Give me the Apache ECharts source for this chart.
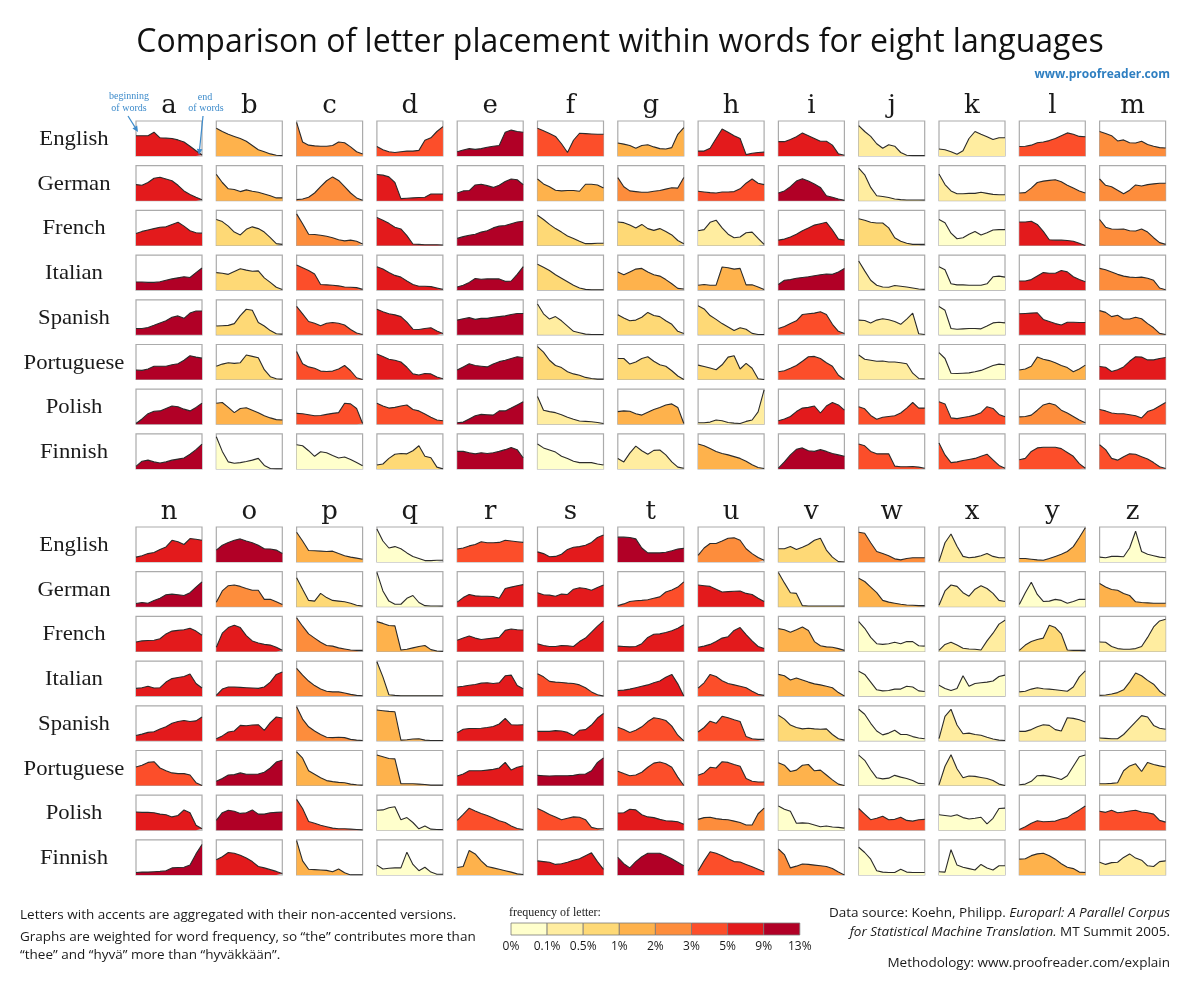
<!DOCTYPE html>
<html><head><meta charset="utf-8">
<script src="https://cdn.jsdelivr.net/npm/echarts@6/dist/echarts.min.js"></script>
<style>html,body{margin:0;padding:0;background:#fff}#chart{width:1200px;height:986px}</style>
</head><body><div id="chart"></div>
<script>
const letters = ['a','b','c','d','e','f','g','h','i','j','k','l','m','n','o','p','q','r','s','t','u','v','w','x','y','z'];
const languages = ['English','German','French','Italian','Spanish','Portuguese','Polish','Finnish'];
const colorBreaks = [0, 0.1, 0.5, 1, 2, 3, 5, 9, 13];
const legendTicks = ['0%','0.1%','0.5%','1%','2%','3%','5%','9%','13%'];
const palette = ['#ffffcc','#ffeda0','#fed976','#feb24c','#fd8d3c','#fc4e2a','#e31a1c','#b10026'];

// letter frequency (%) per language, a..z
const freqEnglish    = [8.1,1.5,2.8,4.2,12.4,3.1,1.9,6.1,6.9,0.15,0.45,4.0,2.4,6.7,9.2,1.8,0.08,4.5,6.3,9.1,2.7,0.9,2.4,0.2,1.9,0.07];
const freqGerman     = [6.5,1.9,2.7,5.1,12.0,1.7,2.9,4.6,9.1,0.3,0.45,2.9,2.5,9.8,2.6,0.8,0.02,7.0,6.4,4.9,5.2,0.8,1.6,0.12,0.09,1.1];
const freqFrench     = [7.6,0.9,2.9,5.1,12.9,0.95,0.9,0.4,6.8,0.6,0.02,5.5,2.6,6.9,5.3,2.8,1.2,6.5,7.8,6.9,5.9,1.4,0.03,0.4,0.6,0.15];
const freqItalian    = [10.5,0.9,4.4,5.0,11.6,0.95,1.7,1.3,10.2,0.15,0.03,6.3,2.7,6.8,8.5,2.9,0.6,6.3,4.9,6.8,3.2,1.8,0.05,0.04,0.12,0.8];
const freqSpanish    = [11.5,0.9,4.4,5.6,12.8,0.45,0.9,0.7,4.9,0.4,0.03,5.8,2.6,6.7,8.4,2.6,1.1,6.6,7.4,4.6,4.1,0.9,0.04,0.2,0.45,0.3];
const freqPortuguese = [12.2,0.9,4.3,5.8,12.4,0.95,0.95,0.9,4.8,0.35,0.02,1.9,5.3,4.7,10.4,1.9,1.3,6.6,9.2,4.8,4.4,1.3,0.03,0.25,0.06,0.55];
const freqPolish     = [9.3,1.5,4.2,3.4,9.1,0.35,1.5,0.45,8.3,3.1,3.4,2.8,3.4,5.7,9.2,3.2,0.01,4.6,4.4,5.2,2.4,0.05,4.4,0.02,3.9,4.9];
const freqFinnish    = [11.8,0.07,0.06,0.9,9.4,0.08,0.4,1.8,10.6,3.2,4.8,4.9,3.3,9.3,5.4,1.8,0.01,1.9,7.8,9.5,4.9,2.2,0.05,0.02,1.8,0.15];

// position profile of each letter, from beginning (left) to end (right) of words, relative scale 0-100
const profEnglish = [
 [58,58,58,68,52,51,50,46,40,28,15,3],[79,70,62,56,50,42,30,18,12,6,2,1],[96,40,31,29,28,28,30,40,38,26,12,6],
 [27,18,12,10,12,14,14,16,45,52,70,84],[12,17,21,19,21,25,28,30,68,74,70,68],[79,72,64,56,35,10,45,65,64,63,62,62],
 [37,34,30,22,30,32,26,21,20,24,62,81],[14,14,22,50,77,68,58,50,4,8,10,11],[41,41,47,55,66,58,50,42,42,31,6,2],
 [87,70,56,35,22,32,28,10,2,1,1,1],[20,18,12,5,15,50,70,62,55,47,52,52],[27,28,31,38,40,44,50,58,66,62,56,55],
 [70,64,58,43,46,38,37,42,33,28,24,23],[14,18,24,27,36,43,62,58,50,67,65,62],[34,48,56,62,66,60,55,48,38,37,34,24],
 [85,60,33,32,31,30,31,24,18,14,11,8],[94,60,40,44,38,26,16,10,4,4,5,5],[37,40,46,50,58,55,55,56,62,60,58,56],
 [29,24,15,16,22,36,42,44,48,56,70,77],[71,71,70,66,40,26,26,26,28,32,37,39],[19,40,53,53,60,68,69,62,38,24,13,5],
 [38,38,44,36,42,50,62,68,34,14,1,0],[85,82,55,30,24,18,9,6,10,12,12,12],[2,55,80,45,16,12,14,18,24,16,12,12],
 [10,10,8,6,5,10,16,22,30,44,70,98],[14,12,16,16,15,40,88,30,22,18,14,12]];
const profGerman = [
 [46,44,52,64,67,62,57,44,28,18,10,3],[75,52,34,32,26,31,27,24,19,14,8,8],[3,5,10,22,40,57,68,58,40,22,8,1],
 [75,73,68,52,6,7,8,9,10,19,19,19],[22,28,29,45,47,43,38,44,55,62,60,46],[62,48,40,30,28,29,29,27,47,47,45,36],
 [66,40,28,26,24,24,27,29,33,37,36,66],[27,25,23,22,25,25,26,34,50,62,50,46],[22,28,40,56,63,56,48,38,14,10,5,1],
 [93,74,38,14,12,9,5,3,2,2,2,2],[76,46,28,20,20,21,21,24,21,18,17,17],[22,23,36,52,56,58,60,54,44,36,28,22],
 [62,44,40,30,20,30,45,42,46,48,50,50],[9,12,10,18,24,34,36,34,32,40,56,71],[13,45,60,62,58,52,47,47,21,21,14,6],
 [83,50,18,16,38,26,18,16,14,10,4,2],[98,45,16,7,7,24,32,12,3,2,2,2],[13,26,35,31,30,30,29,24,52,56,60,63],
 [40,34,33,30,36,35,50,54,52,47,55,62],[3,8,15,17,18,20,24,28,42,48,56,71],[62,60,58,50,42,43,44,45,38,35,24,15],
 [98,68,40,38,3,2,2,2,2,2,2,2],[81,72,56,40,18,13,10,7,5,4,3,3],[4,45,62,58,40,30,50,60,52,38,18,15],
 [6,40,70,35,15,16,21,18,10,15,21,21],[66,56,49,47,38,32,14,12,11,10,10,10]];
const profFrench = [
 [34,40,44,48,52,53,60,66,55,42,36,35],[74,68,55,38,30,46,53,48,38,22,5,3],[90,62,32,31,29,26,22,16,13,15,12,4],
 [80,72,63,52,47,28,4,3,2,2,2,1],[20,25,29,32,38,42,50,55,57,62,67,69],[86,74,60,48,38,27,20,12,5,5,6,6],
 [67,65,58,50,60,48,43,48,40,30,14,5],[42,45,66,72,50,32,22,24,36,38,20,3],[15,18,24,32,42,50,58,62,66,44,18,15],
 [76,72,66,64,64,50,22,12,6,3,3,3],[74,65,35,19,22,32,40,30,36,44,45,45],[67,67,69,60,40,16,15,15,14,12,6,0],
 [74,52,47,46,47,42,41,47,38,22,8,3],[27,30,31,32,36,50,58,60,62,66,58,46],[12,52,68,75,68,45,30,24,20,18,12,3],
 [96,72,50,38,26,17,15,10,7,4,3,3],[85,80,74,73,4,6,10,14,17,5,1,0],[32,38,44,38,34,36,38,40,60,64,62,61],
 [22,17,14,14,17,16,14,28,38,55,72,87],[15,14,13,14,22,40,49,50,54,59,66,76],[12,15,20,28,38,42,60,68,48,30,14,8],
 [65,62,55,62,70,60,28,16,13,12,8,3],[85,66,40,22,20,22,26,22,28,28,16,15],[3,20,26,18,9,7,6,4,30,52,78,89],
 [3,18,28,34,38,75,68,50,4,3,3,3],[27,26,14,8,6,6,8,14,40,70,87,92]];
const profItalian = [
 [23,23,22,22,24,28,32,35,38,36,50,63],[50,48,45,53,61,57,54,55,35,22,8,2],[72,64,56,46,16,15,14,12,9,8,7,2],
 [67,60,50,42,37,26,16,11,11,10,6,2],[9,14,22,33,31,32,32,32,25,26,45,67],[74,65,56,44,34,24,14,6,2,1,1,1],
 [52,44,52,60,62,52,44,40,30,18,5,3],[14,16,14,14,66,64,60,62,15,15,9,2],[16,28,30,34,36,38,41,44,46,45,52,62],
 [83,55,28,14,9,8,13,11,9,6,3,2],[67,58,18,15,15,14,14,14,18,38,40,37],[26,26,30,40,50,48,48,56,52,38,30,24],
 [62,58,52,45,40,37,36,37,34,28,6,1],[22,24,28,23,24,40,50,53,56,63,36,23],[2,20,26,26,25,24,23,22,26,40,62,69],
 [79,60,43,30,20,14,12,12,9,5,2,1],[98,55,4,2,1,1,1,1,1,1,1,1],[26,28,31,33,37,38,36,38,58,60,30,21],
 [64,55,42,40,39,37,36,32,24,12,4,0],[16,17,20,24,28,32,38,43,54,62,35,0],[23,38,62,56,44,36,32,28,24,14,5,2],
 [62,58,46,52,46,40,35,32,28,24,10,0],[71,62,40,18,15,16,20,20,28,26,15,13],[31,22,16,22,58,28,36,38,40,43,56,60],
 [12,14,20,24,21,20,18,16,14,26,55,72],[2,3,6,10,18,40,66,58,45,34,14,2]];
const profSpanish = [
 [18,18,21,27,34,40,50,54,47,62,68,68],[25,26,27,32,55,73,70,35,25,12,3,2],[81,60,38,33,26,33,35,33,28,15,5,1],
 [73,66,60,57,52,36,16,15,18,20,11,4],[42,46,49,44,47,47,50,52,54,58,61,61],[88,60,45,52,40,25,10,6,2,1,1,1],
 [57,48,40,42,50,64,55,52,40,30,10,4],[83,74,55,44,32,22,12,20,16,4,1,1],[18,24,32,40,58,60,62,66,58,30,10,4],
 [42,41,34,42,46,43,38,30,45,62,3,1],[81,70,18,16,17,18,18,17,25,34,36,34],[60,61,62,63,44,38,32,28,36,36,35,35],
 [69,64,52,56,45,45,50,46,32,20,4,1],[15,19,24,26,34,40,50,55,58,55,57,68],[6,14,25,28,44,43,45,46,30,52,68,65],
 [97,62,40,28,18,10,9,10,9,4,2,1],[88,86,84,83,2,3,5,6,2,1,1,1],[23,33,35,35,36,38,41,48,64,46,45,46],
 [27,27,27,29,28,24,15,30,32,45,65,78],[39,32,24,30,40,55,66,63,58,42,16,0],[25,38,56,50,70,66,60,55,12,6,4,4],
 [73,62,45,38,34,36,34,33,34,18,6,2],[90,76,50,28,17,22,30,18,18,12,8,6],[6,70,90,45,20,22,18,16,10,5,2,1],
 [27,27,32,40,46,44,32,28,66,64,60,54],[8,7,6,6,18,36,54,72,68,44,36,33]];
const profPortuguese = [
 [27,26,30,38,38,38,42,45,55,68,64,61],[38,44,48,46,48,70,66,62,28,8,2,1],[80,45,36,32,24,23,24,30,40,25,5,0],
 [73,66,58,55,50,35,16,13,17,16,7,2],[27,36,45,40,38,36,44,51,55,60,65,63],[94,78,55,40,34,22,16,12,6,3,1,1],
 [60,60,44,50,60,65,52,42,38,25,10,0],[41,37,33,28,42,64,68,30,46,32,2,0],[22,25,32,40,52,65,66,60,48,38,12,0],
 [70,58,55,52,53,50,50,48,45,18,3,2],[77,60,18,17,18,19,22,26,33,40,44,42],[27,30,38,64,58,54,48,40,34,22,30,41],
 [37,35,23,28,36,52,65,64,56,56,60,63],[53,58,66,68,50,42,36,34,34,30,8,0],[12,20,30,31,36,32,32,33,38,50,67,72],
 [96,78,42,32,22,14,11,9,8,4,2,1],[87,82,77,76,5,5,5,4,3,1,1,1],[27,33,42,42,42,44,46,50,66,44,52,56],
 [29,28,27,28,28,28,29,32,33,42,66,79],[41,34,28,30,38,52,64,67,62,52,24,0],[29,36,52,50,68,66,60,55,20,12,10,10],
 [65,58,40,44,58,60,42,44,30,16,4,0],[87,72,45,22,19,21,29,24,20,14,6,5],[2,55,88,48,22,27,26,23,20,14,4,0],
 [2,4,12,28,29,26,22,17,28,55,82,87],[5,5,6,8,42,56,62,40,66,60,56,53]];
const profPolish = [
 [2,15,30,37,38,45,52,50,43,38,48,60],[60,62,48,33,45,47,40,33,24,18,13,12],[31,30,27,24,25,28,31,33,60,58,45,2],
 [60,52,46,48,52,55,42,38,29,20,12,10],[4,6,15,24,28,27,26,38,38,46,55,64],[79,40,36,33,27,20,14,9,8,7,5,2],
 [36,38,37,30,26,34,42,48,55,58,48,2],[4,4,6,12,10,5,3,2,8,12,35,98],[10,15,22,36,46,48,52,32,52,62,55,40],
 [50,44,25,14,20,22,24,32,46,62,46,46],[64,58,18,16,19,22,26,33,50,45,28,21],[21,22,26,40,55,60,55,40,32,22,12,4],
 [42,38,32,30,30,27,24,18,36,42,52,62],[52,51,51,50,46,44,38,42,58,50,14,4],[28,50,57,54,48,50,58,46,46,50,51,52],
 [88,62,25,20,14,10,6,4,4,3,2,1],[57,58,64,67,30,36,22,4,12,3,2,2],[28,45,63,55,48,42,35,27,22,12,5,2],
 [62,54,45,38,30,34,38,37,30,8,4,4],[49,50,60,58,44,38,36,31,27,26,24,17],[31,36,37,33,31,30,26,22,15,15,47,63],
 [69,60,54,20,21,20,15,10,12,9,8,6],[62,46,30,34,40,30,31,37,28,26,30,31],[44,42,40,44,36,32,34,37,18,34,62,63],
 [2,10,20,27,24,25,26,32,36,48,58,69],[54,51,57,50,52,55,57,52,50,46,28,23]];
const profFinnish = [
 [7,22,25,20,17,20,25,28,31,42,55,71],[92,50,20,16,18,21,25,30,10,1,0,0],[69,66,52,36,49,46,38,31,34,27,18,9],
 [11,14,30,42,44,43,52,66,36,32,5,0],[50,50,46,43,46,44,46,50,55,61,55,31],[71,60,54,48,36,30,22,18,18,18,14,11],
 [30,20,45,65,52,42,53,54,40,20,5,2],[71,66,58,50,44,40,35,30,22,12,4,1],[2,20,40,56,60,52,50,55,50,44,40,36],
 [71,66,50,43,43,43,8,6,6,7,5,2],[74,40,18,20,24,27,30,36,42,26,10,2],[26,30,50,60,62,62,62,58,47,36,15,2],
 [69,55,30,25,35,43,42,35,28,18,6,1],[7,8,8,9,10,12,20,21,22,28,60,87],[43,52,64,62,56,48,38,24,20,15,10,4],
 [98,40,16,15,14,13,9,17,6,0,0,0],[28,17,19,20,20,65,30,12,22,8,2,2],[21,24,70,60,40,24,20,16,12,8,3,1],
 [40,38,36,30,32,36,42,46,55,63,38,16],[50,32,20,38,52,62,62,62,55,46,36,26],[11,40,66,62,55,46,38,37,30,23,16,9],
 [74,58,20,25,31,30,28,26,24,18,8,0],[79,64,45,12,8,7,7,16,8,7,7,7],[9,8,72,28,22,18,14,30,20,14,26,26],
 [45,46,55,60,62,55,45,32,22,18,8,7],[36,30,35,36,50,60,48,42,26,24,38,40]];

const profiles = [profEnglish, profGerman, profFrench, profItalian, profSpanish, profPortuguese, profPolish, profFinnish];
const freqs = [freqEnglish, freqGerman, freqFrench, freqItalian, freqSpanish, freqPortuguese, freqPolish, freqFinnish];

function colorFor(f) {
  for (let i = 0; i < 8; i++) if (f < colorBreaks[i + 1]) return palette[i];
  return palette[7];
}

// layout
const colLeft0 = 136, colStep = 80.3, cellW = 66, cellH = 35;
const blockTop = [121, 527], rowStep = 44.7;
const serif = "'DejaVu Serif', serif";
const sans = "'Open Sans', 'Noto Sans', sans-serif";

const grid = [], xAxis = [], yAxis = [], series = [], graphic = [];
let k = 0;
languages.forEach((lang, li) => {
  letters.forEach((ch, ci) => {
    const b = ci < 13 ? 0 : 1, col = ci % 13;
    grid.push({ left: colLeft0 + col * colStep, top: blockTop[b] + li * rowStep, width: cellW, height: cellH,
      show: true, borderColor: '#ababab', borderWidth: 1.2, backgroundColor: '#fff' });
    xAxis.push({ gridIndex: k, type: 'value', min: 0, max: 11, show: false });
    yAxis.push({ gridIndex: k, type: 'value', min: 0, max: 100, show: false });
    series.push({ type: 'line', name: lang + ' ' + ch, xAxisIndex: k, yAxisIndex: k,
      data: profiles[li][ci].map((v, i) => [i, v]), symbol: 'none', silent: true,
      lineStyle: { color: '#2b2b2b', width: 1.1 },
      areaStyle: { color: colorFor(freqs[li][ci]), opacity: 1 } });
    k++;
  });
});

// letter headers
letters.forEach((ch, ci) => {
  const b = ci < 13 ? 0 : 1, col = ci % 13;
  graphic.push({ type: 'text', x: colLeft0 + col * colStep + cellW / 2, y: b ? 512 : 106,
    style: { text: ch, font: "26px " + serif, fill: '#1a1a1a', textAlign: 'center', textVerticalAlign: 'middle' } });
});
// language labels
[0, 1].forEach(b => languages.forEach((lang, li) => {
  graphic.push({ type: 'text', x: 74, y: blockTop[b] + li * rowStep + cellH / 2 + 1,
    style: { text: lang, font: "21px 'Liberation Serif', serif", fill: '#1a1a1a', textAlign: 'center', textVerticalAlign: 'middle' },
    scaleX: 1.08, originX: 0 });
}));

// title and site
graphic.push({ type: 'text', x: 620, y: 43, style: { text: 'Comparison of letter placement within words for eight languages',
  font: "32px " + sans, fill: '#111', textAlign: 'center', textVerticalAlign: 'middle' } });
graphic.push({ type: 'text', x: 1170, y: 75, style: { text: 'www.proofreader.com',
  font: "bold 12px " + sans, fill: '#2f7fc1', textAlign: 'right', textVerticalAlign: 'middle' } });

// annotations
const blue = '#3d8bcb';
[['beginning', 129, 96], ['of words', 129, 108], ['end', 205, 97], ['of words', 206, 108]].forEach(t =>
  graphic.push({ type: 'text', x: t[1], y: t[2], style: { text: t[0], font: "10px 'Liberation Serif', serif", fill: blue, textAlign: 'center', textVerticalAlign: 'middle' } }));
function arrow(x1, y1, x2, y2) {
  const a = Math.atan2(y2 - y1, x2 - x1), L = 6, W = 2.8;
  const bx = x2 - L * Math.cos(a), by = y2 - L * Math.sin(a);
  graphic.push({ type: 'line', shape: { x1, y1, x2: bx, y2: by }, style: { stroke: blue, lineWidth: 1.2 }, z: 100 });
  graphic.push({ type: 'polygon', shape: { points: [[x2, y2], [bx - W * Math.sin(a), by + W * Math.cos(a)], [bx + W * Math.sin(a), by - W * Math.cos(a)]] },
    style: { fill: blue }, z: 100 });
}
arrow(128, 116, 138, 132);
arrow(203, 116, 199, 155);

// footnotes
const fs = 13.5;
const note = { font: fs + "px " + sans, fill: '#1a1a1a', textVerticalAlign: 'middle' };
graphic.push({ type: 'text', x: 20, y: 915, style: Object.assign({ text: 'Letters with accents are aggregated with their non-accented versions.' }, note) });
graphic.push({ type: 'text', x: 20, y: 937, style: Object.assign({ text: 'Graphs are weighted for word frequency, so \u201cthe\u201d contributes more than' }, note) });
graphic.push({ type: 'text', x: 20, y: 955, style: Object.assign({ text: '\u201cthee\u201d and \u201chyv\u00e4\u201d more than \u201chyv\u00e4kk\u00e4\u00e4n\u201d.' }, note) });

const rich = { n: { font: fs + "px " + sans, fill: '#1a1a1a' }, i: { font: "italic " + fs + "px " + sans, fill: '#1a1a1a' } };
graphic.push({ type: 'text', x: 1170, y: 913, style: { text: '{n|Data source: Koehn, Philipp. }{i|Europarl: A Parallel Corpus}', rich, textAlign: 'right', textVerticalAlign: 'middle' } });
graphic.push({ type: 'text', x: 1170, y: 932, style: { text: '{i|for Statistical Machine Translation.}{n| MT Summit 2005.}', rich, textAlign: 'right', textVerticalAlign: 'middle' } });
graphic.push({ type: 'text', x: 1170, y: 963, style: { text: 'Methodology: www.proofreader.com/explain', font: fs + "px " + sans, fill: '#1a1a1a', textAlign: 'right', textVerticalAlign: 'middle' } });

// colour legend
graphic.push({ type: 'text', x: 509, y: 913, style: { text: 'frequency of letter:', font: "12px 'Liberation Serif', serif", fill: '#1a1a1a', textVerticalAlign: 'middle' } });
palette.forEach((c, i) => graphic.push({ type: 'rect', shape: { x: 511 + i * 36.1, y: 923, width: 36.1, height: 12 },
  style: { fill: c, stroke: '#7a7a7a', lineWidth: 0.8 } }));
legendTicks.forEach((t, i) => graphic.push({ type: 'text', x: 511 + i * 36.1, y: 947,
  style: { text: t, font: "12px " + sans, fill: '#1a1a1a', textAlign: 'center', textVerticalAlign: 'middle' } }));

const chart = echarts.init(document.getElementById('chart'), null, { renderer: 'canvas' });
chart.setOption({ backgroundColor: '#fff', animation: false, grid, xAxis, yAxis, series, graphic });
</script></body></html>
